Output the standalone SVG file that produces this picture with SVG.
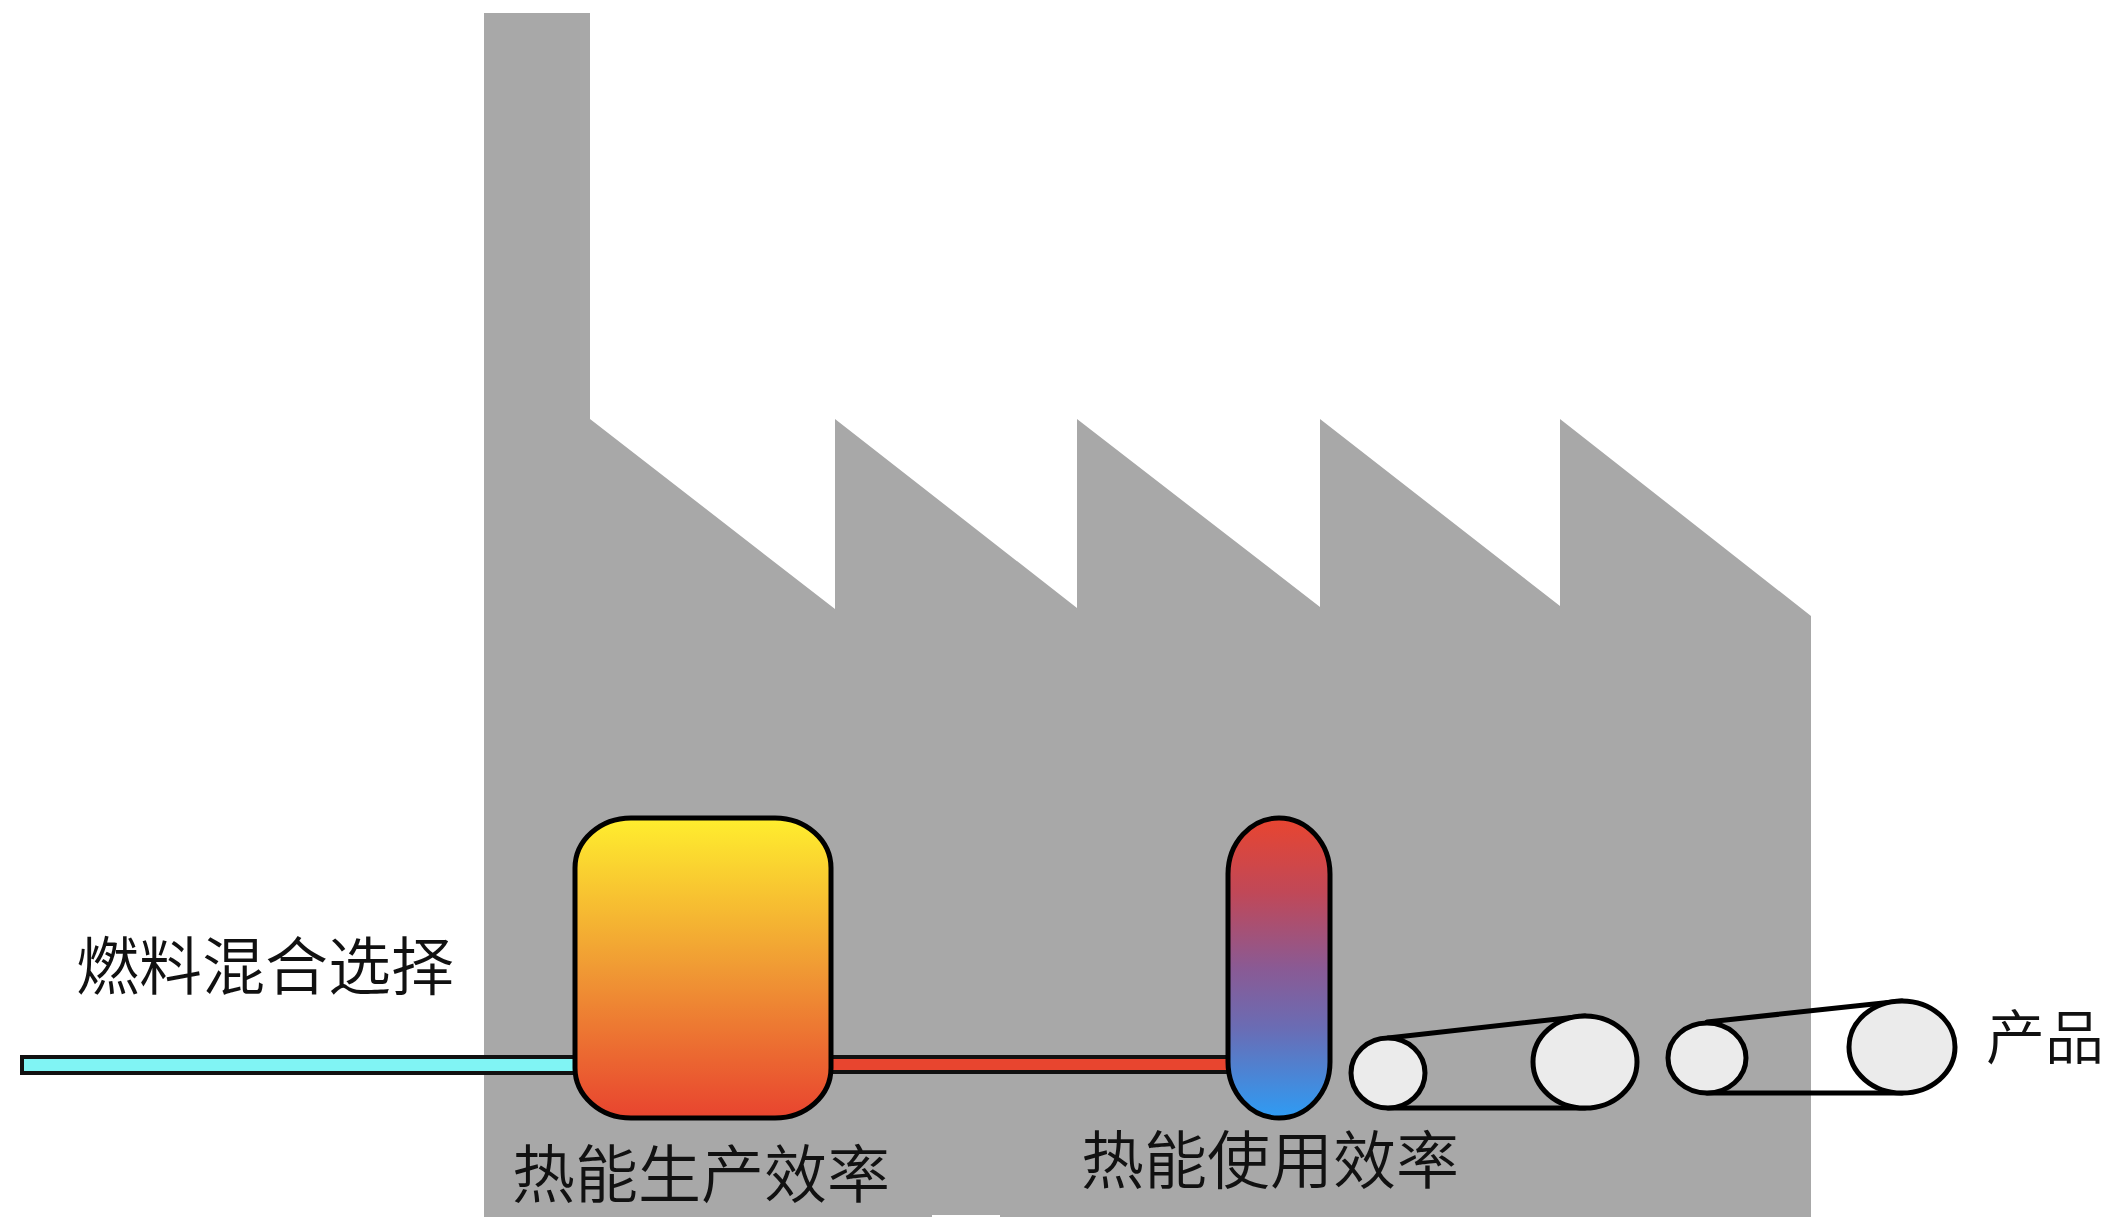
<svg xmlns="http://www.w3.org/2000/svg" width="2119" height="1217" viewBox="0 0 2119 1217">
  <style>
    .label { font-family: "Noto Sans CJK SC", "Noto Sans", sans-serif; font-size: 63px; font-weight: 350; fill: #111111; }
    .pipe { stroke: #111; stroke-width: 4; }
    .vessel { stroke: #000; stroke-width: 5; }
    .roller { fill: #ebebeb; stroke: #000; stroke-width: 5; }
    .belt { stroke: #000; stroke-width: 5; fill: none; stroke-linecap: round; }
  </style>
  <defs>
    <linearGradient id="boilerGrad" x1="0" y1="0" x2="0" y2="1">
      <stop offset="0" stop-color="#ffee2e"/>
      <stop offset="0.5" stop-color="#f09a34"/>
      <stop offset="1" stop-color="#e8442f"/>
    </linearGradient>
    <linearGradient id="exchangerGrad" x1="0" y1="0" x2="0" y2="1">
      <stop offset="0" stop-color="#e84530"/>
      <stop offset="0.25" stop-color="#c04858"/>
      <stop offset="0.5" stop-color="#8a5a94"/>
      <stop offset="0.7" stop-color="#6a6cb4"/>
      <stop offset="1" stop-color="#2e9cf4"/>
    </linearGradient>
  </defs>

  <rect width="2119" height="1217" fill="#ffffff"/>

  <!-- factory silhouette: chimney and saw-tooth roof -->
  <g id="factory">
    <path d="M484,13 L590,13 L590,419 L835,609 L835,419 L1077,608 L1077,419 L1320,607 L1320,419 L1560,606 L1560,419 L1811,616 L1811,1217 L484,1217 Z" fill="#a8a8a8"/>
    <rect x="932" y="1215" width="68" height="2" fill="#ffffff"/>
  </g>

  <!-- pipes between stages -->
  <g id="connectors">
    <rect class="pipe" x="22" y="1057" width="560" height="16" fill="#80f4f4"/>
    <rect class="pipe" x="826" y="1057" width="406" height="15" fill="#e8452f"/>
  </g>

  <g id="fuel-input">
    <text class="label" x="76" y="989">燃料混合选择</text>
  </g>

  <g id="heat-production">
    <rect class="vessel" x="575" y="818" width="256" height="300" rx="56" ry="50" fill="url(#boilerGrad)"/>
    <text class="label" x="512" y="1197">热能生产效率</text>
  </g>

  <g id="heat-usage">
    <rect class="vessel" x="1228" y="818" width="102" height="300" rx="51" ry="56" fill="url(#exchangerGrad)"/>
    <text class="label" x="1081" y="1183">热能使用效率</text>
  </g>

  <g id="conveyor-1">
    <line class="belt" x1="1388" y1="1038" x2="1585" y2="1016"/>
    <line class="belt" x1="1388" y1="1108" x2="1585" y2="1108"/>
    <ellipse class="roller" cx="1388" cy="1073" rx="37" ry="35"/>
    <ellipse class="roller" cx="1585" cy="1062" rx="52" ry="46"/>
  </g>

  <g id="conveyor-2">
    <line class="belt" x1="1707" y1="1022" x2="1902" y2="1001"/>
    <line class="belt" x1="1707" y1="1093" x2="1902" y2="1093"/>
    <ellipse class="roller" cx="1707" cy="1058" rx="39" ry="35"/>
    <ellipse class="roller" cx="1902" cy="1047" rx="53" ry="46"/>
  </g>

  <g id="product">
    <text class="label" x="1986" y="1059" style="font-size:59px">产品</text>
  </g>
</svg>
